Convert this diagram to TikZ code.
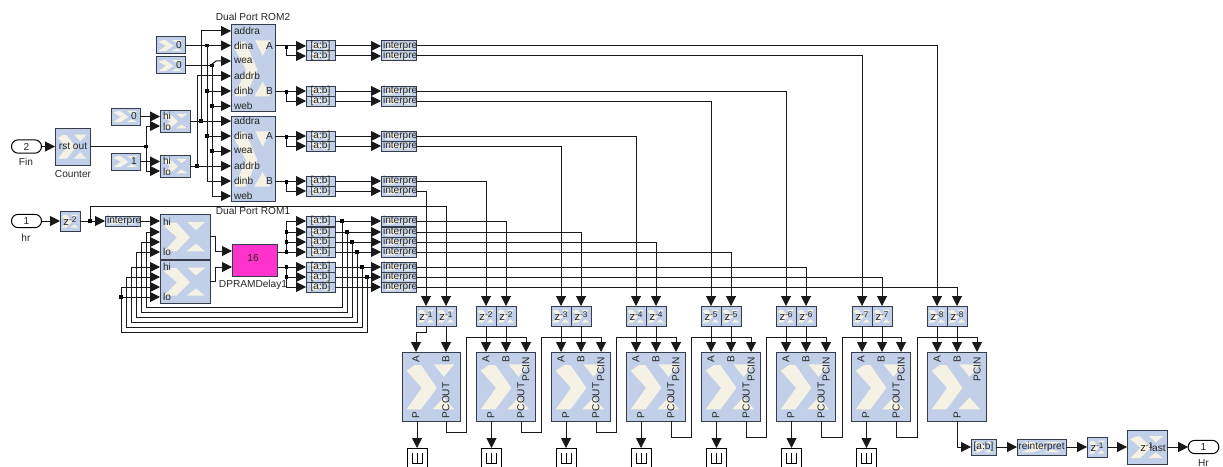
\documentclass[tikz,border=0pt]{standalone}
\usepackage{fontspec}
\setmainfont{Liberation Sans}
\usetikzlibrary{arrows.meta,calc}
\definecolor{blockc}{RGB}{193,207,232}
\definecolor{creamc}{RGB}{245,241,228}
\definecolor{edgec}{RGB}{55,60,75}
\definecolor{pinkc}{RGB}{255,51,204}
\newcounter{lb}
\tikzset{
  blk/.style={draw=edgec,line width=.75pt,fill=blockc,inner sep=0pt,outer sep=0pt,rectangle},
  txt/.style={inner sep=0pt,outer sep=0pt,font=\fontsize{7.6}{8}\selectfont,text=black!85},
  wire/.style={draw=black!90,line width=.75pt},
  arr/.style={wire,-{Triangle[length=7.5pt,width=7.5pt]}},
  portb/.style={draw=black,line width=.75pt,fill=white,rounded corners=5pt,inner sep=0pt,outer sep=0pt},
  dot/.style={fill=black,inner sep=0pt,minimum size=2.4pt,rectangle},
  scopebox/.style={draw=black,line width=.75pt,fill=white,inner sep=0pt,outer sep=0pt}
}
% {name}{x0}{y0}{x1}{y1}
\newcommand\blk[5]{%
  \pgfmathsetmacro\blkw{((#4)-(#2))*0.75}%
  \pgfmathsetmacro\blkh{((#5)-(#3))*0.75}%
  \pgfmathsetmacro\blkcx{((#2)+(#4))/2}%
  \pgfmathsetmacro\blkcy{((#3)+(#5))/2}%
  \node[blk,minimum width=\blkw pt,minimum height=\blkh pt] (#1) at (\blkcx,\blkcy) {};
  \begin{scope}[shift={(#1.north west)},x=\blkw pt,y=-\blkh pt]
    \fill[creamc] (0.08,0.27)--(0.22,0.19)--(0.33,0.19)--(0.6,0.52)--(0.33,0.83)--(0.08,0.83)--(0.34,0.52)--cycle;
    \fill[creamc] (0.55,0.18)--(0.9,0.18)--(0.72,0.36)--cycle;
    \fill[creamc] (0.72,0.66)--(0.9,0.83)--(0.53,0.83)--cycle;
  \end{scope}}
\newcommand\lbl[4][]{\stepcounter{lb}\node[txt,#1] (t\arabic{lb}) at (#2,#3) {#4};}
\newcommand\jn[2]{\stepcounter{lb}\node[dot] (j\arabic{lb}) at (#1,#2) {};}
\newcommand\zd[1]{{\fontsize{8.5}{8}\selectfont z\raisebox{.55ex}{\fontsize{6.2}{6}\selectfont -#1}}}
\begin{document}
\begin{tikzpicture}[x=0.75pt,y=-0.75pt]
\useasboundingbox (0,0) rectangle (1223,467);
\fill[white] (0,0) rectangle (1223,467);
% ports
\node[portb,minimum width=22.5pt,minimum height=10pt] (fin) at (26.5,146.5) {};
\lbl{26.5}{146.5}{2}\lbl{26}{162}{Fin}
\node[portb,minimum width=22.5pt,minimum height=10pt] (hr) at (26.5,221) {};
\lbl{26.5}{221}{1}\lbl{26}{238}{hr}
\node[portb,minimum width=23pt,minimum height=10pt] (out) at (1203.5,447) {};
\lbl{1203.5}{447}{1}\lbl{1203.5}{463}{Hr}
% left top blocks
\blk{counter}{55}{128}{90}{165}\lbl{73}{146.5}{rst out}\lbl{73}{174}{Counter}
\blk{cza}{156}{37}{185}{54}\lbl{179}{45.5}{0}
\blk{czb}{156}{57}{185}{74}\lbl{179}{65.5}{0}
\blk{czc}{111}{108}{140}{125}\lbl{134}{116.5}{0}
\blk{cone}{111}{153}{140}{170}\lbl{134}{161.5}{1}
\blk{ca}{160}{110}{190}{132}\lbl[anchor=west]{163}{115.5}{hi}\lbl[anchor=west]{163}{127}{lo}
\blk{cb}{160}{155}{190}{177}\lbl[anchor=west]{163}{160.5}{hi}\lbl[anchor=west]{163}{171.5}{lo}
\blk{romA}{231}{25}{275}{111}
\blk{romB}{231}{116}{275}{201}
\lbl{253}{17}{Dual Port ROM2}\lbl{253}{211}{Dual Port ROM1}
\foreach \nm/\yy in {addra/31,dina/46,wea/61,addrb/76,dinb/91,web/106,addra/121,dina/136,wea/151,addrb/166,dinb/181,web/196}
  {\lbl[anchor=west]{234}{\yy}{\nm}}
\foreach \nm/\yy in {A/46,B/91,A/136,B/181} {\lbl[anchor=east]{273}{\yy}{\nm}}
% slices and interprets
\foreach \n/\yy in {1/46,2/56,3/91,4/101,5/136,6/146,7/181,8/191,9/221,10/232,11/242,12/252,13/267,14/277,15/287}{
  \blk{s\n}{306}{\yy-5}{335}{\yy+5}\lbl{320.5}{\yy}{[a:b]}
  \blk{i\n}{381}{\yy-5}{416}{\yy+5}\lbl[anchor=west]{383}{\yy}{interpre}
  \draw[arr] (s\n.east) -- (i\n.west);
}
% hr chain
\blk{dh}{60}{211}{80}{231}\lbl{70}{221}{\zd{2}}
\blk{ih}{105}{216}{140}{226}\lbl[anchor=west]{107}{221}{interpre}
\blk{cca}{160}{214}{210}{259}\lbl[anchor=west]{163}{221.5}{hi}\lbl[anchor=west]{163}{251.5}{lo}
\blk{ccb}{160}{260}{210}{303}\lbl[anchor=west]{163}{266.5}{hi}\lbl[anchor=west]{163}{296.5}{lo}
\node[blk,fill=pinkc,minimum width=33.75pt,minimum height=24pt] (pink) at (254.5,260) {};
\lbl{253}{258}{16}\lbl{253}{285}{DPRAMDelay1}
% delays
\foreach \n/\ax in {1/416,2/476,3/551,4/626,5/701,6/776,7/852,8/927}{
  \blk{da\n}{\ax}{306}{\ax+20}{326}\lbl{\ax+10}{316}{\zd{\n}}
  \blk{db\n}{\ax+20}{306}{\ax+40}{326}\lbl{\ax+30}{316}{\zd{\n}}
}
% DSP blocks
\blk{m1}{402}{352}{460}{421}
\lbl[rotate=90]{416}{359}{A}\lbl[rotate=90]{446}{359}{B}
\lbl[rotate=90]{416}{415}{P}\lbl[rotate=90,anchor=west]{446}{418}{PCOUT}
\foreach \n/\lx in {2/476,3/551,4/626,5/701,6/776,7/851,8/927}{
  \blk{m\n}{\lx}{352}{\lx+59}{421}
  \lbl[rotate=90]{\lx+10}{359}{A}\lbl[rotate=90]{\lx+30}{359}{B}
  \lbl[rotate=90,anchor=east]{\lx+50}{357}{PCIN}
}
\foreach \n/\lx in {2/476,3/551,4/626,5/701,6/776,7/851}{
  \lbl[rotate=90]{\lx+15}{415}{P}\lbl[rotate=90,anchor=west]{\lx+45}{418}{PCOUT}
}
\lbl[rotate=90]{957}{415}{P}
% scopes
\foreach \n/\px in {1/417,2/491.5,3/566,4/641,5/716.5,6/791.5,7/866.5}{
  \node[scopebox,minimum width=15pt,minimum height=18pt,anchor=north] (sc\n) at (\px,448) {};
  \draw[line width=.75pt,black] (\px-5,453) -- (\px-5,463) -- (\px+5,463) -- (\px+5,453) (\px,453) -- (\px,463);
  \draw[arr] (\px,421) -- (sc\n.north);
}
% final chain
\blk{sl}{971}{439}{996}{455}\lbl{983.5}{447}{[a:b]}
\blk{re}{1017}{439}{1066}{455}\lbl{1041.5}{447}{reinterpret}
\blk{dz}{1087}{437}{1107}{457}\lbl{1097}{447}{\zd{1}}
\blk{conv}{1127}{430}{1167}{464}\lbl{1153}{447.5}{\zd{1}\hspace{-2.5pt}last}
\draw[arr] (957,421) |- (sl.west);
\draw[arr] (sl.east) -- (re.west);
\draw[arr] (re.east) -- (dz.west);
\draw[arr] (dz.east) -- (conv.west);
\draw[arr] (conv.east) -- (out.west);
% left wiring
\draw[arr] (fin.east) -- (counter.west |- fin.east);
\draw[arr] (czc.east) -- (ca.west |- czc.east);
\draw[arr] (cone.east) -- (cb.west |- cone.east);
\coordinate (jc) at (146,146.5);
\draw[wire] (counter.east) -- (jc);
\jn{146}{146.5}
\draw[arr] (jc) |- (ca.west |- 0,126);
\draw[arr] (jc) |- (cb.west |- 0,171);
\coordinate (ja) at (207,45.5);
\jn{207}{45.5}\jn{207}{91}\jn{207}{136}
\draw[arr] (cza.east) -- (romA.west |- cza.east);
\draw[arr] (ja) |- (romA.west |- 0,91);
\draw[arr] (ja) |- (romB.west |- 0,136);
\draw[arr] (ja) |- (romB.west |- 0,181);
\coordinate (jb) at (212,65.5);
\jn{212}{65.5}\jn{212}{106}\jn{212}{151}
\draw[wire] (czb.east) -- (jb);
\draw[arr] (jb) -- (212,64) -- (216,61) -- (romA.west |- 0,61);
\draw[arr] (jb) |- (romA.west |- 0,106);
\draw[arr] (jb) |- (romB.west |- 0,151);
\draw[arr] (jb) |- (romB.west |- 0,196);
\coordinate (jp) at (201,121);
\jn{201}{121}
\draw[arr] (ca.east) -- (romB.west |- ca.east);
\draw[arr] (jp) |- (romA.west |- 0,31);
\coordinate (jq) at (197,166);
\jn{197}{166}
\draw[arr] (cb.east) -- (romB.west |- cb.east);
\draw[arr] (jq) |- (romA.west |- 0,76);
% ROM outputs
\foreach \a/\b/\r/\yy in {1/2/romA/46,3/4/romA/91,5/6/romB/136,7/8/romB/181}{
  \draw[arr] (\r.east |- 0,\yy) -- (s\a.west);
  \draw[arr] (286,\yy) |- (s\b.west);
  \jn{286.5}{\yy+1}
}
% interpret outputs to delays
\foreach \n/\d in {1/da8,2/da7,3/da6,4/da5,5/da4,6/da3,7/da2,8/da1,9/db2,10/db3,11/db4,12/db5,13/db6,14/db7,15/db8}{
  \draw[arr] (i\n.east) -| (\d.north);
}
% hr wiring
\draw[arr] (hr.east) -- (dh.west);
\draw[arr] (dh.east) -- (ih.west);
\coordinate (jh) at (90,221);
\jn{90}{221}
\draw[arr] (jh) -- (jh |- 0,206) -| (db1.north);
\draw[arr] (ih.east) -- (cca.west |- ih.east);
\draw[arr] (cca.east) -- ++(5,0) |- (pink.west |- 0,251);
\draw[arr] (ccb.east) -- ++(5,0) |- (pink.west |- 0,267);
% pink outputs
\draw[arr] (pink.east |- 0,252) -- (s12.west);
\draw[arr] (286,252) |- (s9.west);
\draw[arr] (286,252) |- (s10.west);
\draw[arr] (286,252) |- (s11.west);
\draw[arr] (pink.east |- 0,267) -- (s13.west);
\draw[arr] (286,267) |- (s14.west);
\draw[arr] (286,267) |- (s15.west);
\jn{286.5}{232}\jn{286.5}{242}\jn{286.5}{252}\jn{286.5}{267}\jn{286.5}{277}
% feedback
\jn{342}{221}\jn{347}{232}\jn{352}{242}\jn{357}{252}\jn{362}{267}\jn{367}{277}
\foreach \n/\fx/\fy/\lx/\ty/\c in {9/342/307/146/232/cca,10/347/312/141/242/cca,11/352/317/136/252/cca,12/357/322/131/267/ccb,13/362/327/126/277/ccb,14/367/332/121/287/ccb}{
  \draw[arr] (\fx,0 |- s\n.east) -- (\fx,\fy) -- (\lx,\fy) -- (\lx,\ty) -- (\c.west |- 0,\ty);
}
\jn{121}{297}
\draw[arr] (121,297) -- (ccb.west |- 0,297);
% delays to DSP
\draw[arr] (da1.south) -- ++(0,6) -| (416,0 |- m1.north);
\draw[arr] (db1.south) -- (db1.south |- m1.north);
\foreach \n in {2,...,8}{
  \draw[arr] (da\n.south) -- (da\n.south |- m\n.north);
  \draw[arr] (db\n.south) -- (db\n.south |- m\n.north);
}
% PCOUT chain
\foreach \a/\ox/\oy/\rx/\b/\px in {1/446/432/466/2/526,2/521/432/541.5/3/601,3/596.5/432/616.5/4/676,4/671.5/437/691.5/5/751,5/746.5/437/766.5/6/826,6/821.5/437/842/7/901,7/896.5/437/917/8/977}{
  \draw[arr] (\ox,0 |- m\a.south) -- (\ox,\oy) -- (\rx,\oy) -- (\rx,337) -- (\px,337) -- (\px,0 |- m\b.north);
}
\end{tikzpicture}
\end{document}
